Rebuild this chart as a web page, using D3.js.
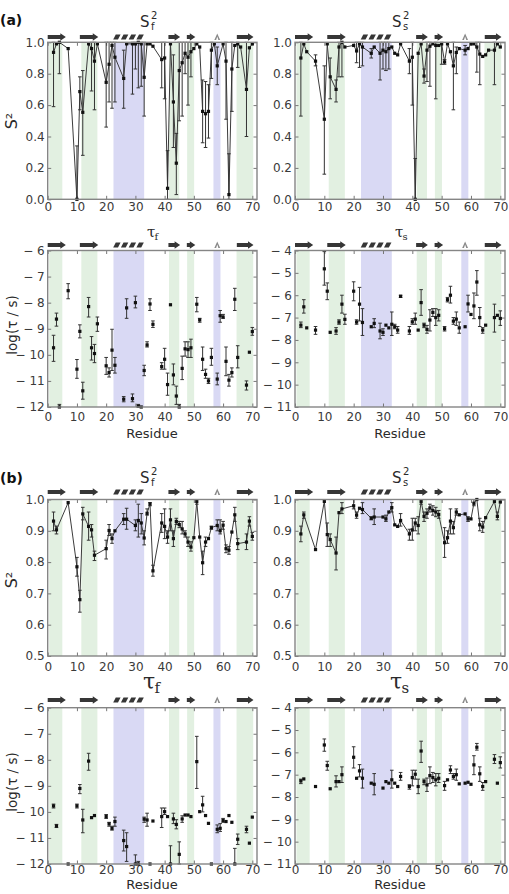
<!DOCTYPE html>
<html><head><meta charset="utf-8">
<script src="https://cdn.jsdelivr.net/npm/d3@7"></script>
<style>body{margin:0;background:#fff}svg{display:block}text{font-family:"DejaVu Sans",sans-serif}</style>
</head><body><svg id="c" width="509" height="894"></svg>
<script>
// ---------- shared annotations ----------
const xDomain = [0, 71.6];
const xTicks = [0,10,20,30,40,50,60,70];
const bandsGreen = [[0.5,5],[11.5,17],[41.5,45],[47.7,50.1],[64.6,70.3]];
const bandsBlue = [[22.5,33],[56.7,59.1]];
const strands = [[0,6.2],[11,17.3],[41.3,45.3],[47.6,50.5],[64.7,70.4]];
const helices = [[22.4,33]];
const turns = [[57,59]];
const s2TicksA = [0,0.2,0.4,0.6,0.8,1.0];
const s2TicksB = [0.5,0.6,0.7,0.8,0.9,1.0];
const tfTicks = [-12,-11,-10,-9,-8,-7,-6];
const tsTicks = [-11,-10,-9,-8,-7,-6,-5,-4];

// ---------- (a) S_f^2 ----------
const aSfRes = [2,3,4,7,10,11,12,14,15,16,17,20,21,22,23,26,27,29,30,31,32,33,34,35,36,39,40,41,42,43,44,45,46,47,48,49,50,51,52,53,54,55,56,57,58,60,61,62,63,64,65,66,68,69,70];
const aSfVal = [.936,.99,1.0,.96,0.0,.686,.554,.99,.96,.88,.99,.745,.86,.98,.905,.77,.99,.99,.99,1.0,.99,.777,.99,.99,.975,.89,.90,.07,.99,.62,.23,.82,.87,.93,.905,.94,.96,.99,.97,.56,.545,.56,.95,.99,.85,.99,.88,.03,.83,.98,.99,.97,.70,.965,.99];
const aSfErr = [[.59,1],null,[.80,1],null,[0,.34],[.57,.78],[.28,.82],null,[.69,1],[.57,1],null,[.46,1],[.62,1],[.58,1],[.62,1],[.58,.95],null,[.67,1],[.83,1],[.71,1],[.72,1],[.53,1],null,null,null,[.71,1],[.64,1],[0,.31],null,[.33,.92],[.03,.42],[.50,1],[.53,1],[.80,1],[.60,1],[.78,1],null,null,null,[.36,.76],[.33,.75],[.39,.73],[.77,1],null,[.73,.97],null,[.51,1],[0,.29],[.56,1],null,[.84,1],null,[.40,1],null,null];

// ---------- (a) S_s^2 ----------
const aSsRes = [2,3,4,7,10,11,12,14,15,16,17,20,21,22,23,26,27,29,30,31,32,33,34,35,36,39,40,41,42,43,44,45,46,47,48,49,50,51,52,53,54,55,56,58,59,60,61,62,63,64,65,66,68,69,70];
const aSsVal = [.90,.99,.94,.88,.51,.99,.78,.70,.97,1.0,.97,.98,.945,.99,.97,.93,.97,.93,.95,.94,.96,.97,.93,.92,.99,.88,.905,0.0,.93,.99,.785,.95,.975,.99,.98,.98,.99,.875,.99,.94,.85,.935,.96,.95,.96,.99,.99,.97,.925,.91,.92,.95,.95,.99,.97];
const aSsErr = [[.53,1],null,null,[.85,.92],[.16,.85],null,[.64,.90],[.62,.76],[.78,1],[.78,1],null,null,[.87,1],[.84,1],[.85,1],[.90,.96],null,[.76,1],[.83,1],[.82,1],[.83,1],null,null,null,null,[.80,.96],[.60,1],[0,.26],null,null,[.74,.83],[.75,1],[.72,1],null,[.64,1],null,[.86,1],[.86,.89],null,null,[.57,1],[.80,.97],null,[.92,.98],null,null,null,[.81,1],[.73,1],null,null,null,[.73,1],null,null];

// ---------- (a) tau_f ----------
const aTfRes = [2,3,4,7,10,11,12,14,15,16,17,20,21,22,23,26,27,29,30,31,32,33,34,35,36,39,40,41,42,43,44,45,46,47,48,49,51,52,53,54,55,56,58,59,60,61,62,63,64,65,68,69,70];
const aTfVal = [-9.73,-8.63,-12,-7.54,-10.55,-9.1,-11.38,-8.15,-9.73,-9.95,-8.81,-10.42,-10.68,-9.82,-10.4,-11.7,-8.2,-11.68,-8.0,-11.97,-12,-10.6,-9.62,-8.05,-8.83,-10.45,-10.17,-11.14,-8.08,-10.77,-11.58,-12,-10.52,-9.77,-9.8,-9.73,-8.06,-8.66,-10.17,-10.75,-11.0,-10.1,-10.93,-8.5,-8.55,-10.25,-10.97,-10.68,-7.87,-10.1,-11.16,-9.9,-9.11];
const aTfErr = [[-9.25,-10.25],[-8.4,-8.9],[-11.9,-12],[-7.27,-7.85],[-10.18,-10.9],[-8.85,-9.35],[-11.05,-11.7],[-7.8,-8.55],[-9.3,-10.2],[-9.6,-10.3],[-8.55,-9.1],[-10.1,-10.75],[-10.5,-10.85],[-9.02,-10.6],[-10.1,-10.7],[-11.6,-11.8],[-7.85,-8.6],[-11.5,-11.8],[-7.75,-8.2],[-11.9,-12],null,[-10.4,-10.8],[-9.5,-9.7],[-7.85,-8.3],[-8.7,-8.95],[-10.3,-10.55],[-9.75,-10.55],[-10.7,-11.55],null,[-10.35,-11.15],[-11.2,-11.9],[-11.9,-12],[-10.05,-10.95],[-9.5,-10.05],[-9.5,-10.1],[-9.4,-10.1],[-7.8,-8.35],[-8.6,-8.75],[-9.7,-10.6],[-10.55,-10.9],[-10.9,-11.1],[-9.75,-10.4],[-10.7,-11.15],[-8.3,-8.75],[-8.45,-8.6],[-9.7,-10.8],[-10.75,-11.2],[-10.5,-10.85],[-7.45,-8.3],[-9.65,-10.5],[-11.0,-11.35],null,[-8.95,-9.25]];

// ---------- (a) tau_s ----------
const aTsRes = [2,3,4,7,10,11,12,14,15,16,17,20,21,22,23,26,27,29,30,31,32,33,34,35,36,39,40,41,42,43,44,45,46,47,48,49,51,52,53,54,55,56,58,59,60,61,62,63,64,65,68,69,70];
const aTsVal = [-7.34,-6.52,-7.46,-7.56,-4.82,-5.82,-7.66,-7.6,-7.2,-6.4,-7.08,-5.82,-7.2,-6.4,-7.22,-7.41,-7.26,-7.6,-7.66,-7.34,-7.46,-7.3,-7.41,-7.56,-6.05,-7.6,-7.19,-7.07,-7.56,-6.33,-7.34,-7.53,-7.11,-6.77,-7.0,-6.9,-7.5,-6.2,-6.0,-7.16,-7.07,-7.46,-7.41,-6.39,-6.86,-6.48,-5.41,-7.0,-7.56,-7.34,-7.0,-6.9,-7.04];
const aTsErr = [[-7.2,-7.45],[-6.2,-6.8],null,[-7.4,-7.75],[-4.05,-5.55],[-5.45,-6.2],null,[-7.45,-7.75],[-7.1,-7.3],[-6.0,-6.8],[-6.85,-7.3],[-5.4,-6.25],[-7.1,-7.3],[-5.65,-7.15],[-6.6,-7.8],null,[-7.05,-7.45],[-7.25,-7.95],[-7.5,-7.8],null,null,[-6.75,-7.8],[-7.3,-7.5],[-7.4,-7.7],[-6.0,-6.1],[-7.4,-7.75],[-7.05,-7.3],[-6.8,-7.3],null,[-5.75,-6.9],[-7.25,-7.45],[-7.35,-7.7],[-6.65,-7.6],[-6.6,-6.95],[-6.6,-7.35],[-6.65,-7.15],[-7.4,-7.6],[-6.1,-6.3],[-5.6,-6.35],[-7.0,-7.3],[-6.75,-7.35],[-7.2,-7.7],null,[-6.0,-6.75],null,[-5.9,-7.05],[-4.9,-6.0],[-6.55,-7.4],[-7.45,-7.7],null,[-6.4,-7.65],null,[-6.7,-7.35]];

// ---------- (b) S_f^2 ----------
const bSfRes = [2,3,7,10,11,12,14,15,16,20,21,22,23,26,27,30,31,32,33,34,35,36,39,40,41,42,43,44,45,46,47,48,49,50,51,52,53,54,55,56,58,59,60,61,62,63,64,65,68,69,70];
const bSfVal = [.931,.903,.99,.785,.68,.954,.914,.903,.822,.843,.901,.875,.9,.937,.937,.917,.933,.925,.877,.956,.986,.772,.925,.914,.88,.935,.875,.93,.92,.906,.89,.864,.848,.878,.994,.88,.798,.864,.875,.91,.917,.90,.918,.843,.838,.896,.951,.859,.864,.931,.882];
const bSfErr = [[.90,.96],[.89,.915],null,[.755,.815],[.64,.71],[.935,.975],[.87,.96],[.88,.92],[.805,.835],[.81,.87],[.885,.92],[.86,.89],null,[.92,.955],[.905,.972],[.90,.935],[.88,.985],[.89,.955],[.855,.90],[.95,.97],[.98,.99],[.755,.79],[.895,.955],[.875,.97],[.86,.90],[.90,.97],[.85,.90],[.92,.94],[.91,.93],[.89,.93],[.88,.90],[.85,.88],[.835,.865],null,[.985,1.0],null,[.76,.835],[.85,.88],null,[.905,.915],[.90,.935],[.89,.935],[.905,.93],[.83,.855],[.825,.85],null,[.93,.975],[.84,.875],[.84,.89],[.915,.945],[.87,.895]];

// ---------- (b) S_s^2 ----------
const bSsRes = [2,3,7,10,11,12,14,15,16,20,21,22,23,26,27,30,31,32,33,34,35,36,39,40,41,42,43,44,45,46,47,48,49,51,52,53,54,55,56,58,59,60,61,62,63,64,65,68,69,70];
const bSsVal = [.89,.951,.84,.994,.888,.872,.829,.958,.97,.98,.95,.972,.968,.94,.944,.944,.938,.96,.974,.919,.914,.933,.89,.903,.925,.917,.994,.946,.956,.973,.965,.96,.952,.862,.878,.931,.91,.96,.951,.954,.938,.938,.988,1.0,.919,.912,.942,.994,.946,.992];
const bSsErr = [[.865,.915],[.94,.96],null,null,[.85,.925],[.85,.89],[.775,.88],null,[.955,.99],[.97,1.0],[.94,.96],null,[.955,.99],[.935,.945],[.92,.97],null,[.93,.95],null,[.96,.99],null,null,[.915,.955],[.87,.905],[.87,.94],[.90,.94],[.89,.945],[.985,1.0],[.93,.96],[.94,.97],[.96,.985],[.95,.98],[.945,.975],[.94,.965],[.815,.91],[.86,.90],[.89,.97],[.89,.93],[.95,.97],null,null,[.93,.945],null,[.98,1.0],null,[.90,.94],[.895,.93],null,null,[.935,.96],null];

// ---------- (b) tau_f ----------
const bTfRes = [2,3,7,10,11,12,14,15,16,20,21,22,23,26,27,30,31,33,34,35,36,39,40,41,42,43,44,45,46,47,48,49,51,52,53,54,55,56,58,59,60,61,62,63,64,65,68,69,70];
const bTfVal = [-9.77,-10.54,-12,-9.77,-9.1,-10.31,-8.05,-10.22,-10.14,-10.18,-10.46,-10.63,-10.37,-11.1,-11.33,-12,-12,-10.28,-10.31,-12,-10.35,-10.18,-9.99,-10.18,-12,-10.27,-10.48,-11.63,-10.27,-10.12,-10.12,-10.18,-8.07,-9.99,-9.73,-10.14,-10.44,-12,-10.67,-10.63,-10.33,-10.37,-10.14,-10.4,-12,-11.05,-10.67,-11.2,-10.2];
const bTfErr = [[-9.7,-9.85],[-10.48,-10.6],null,[-9.7,-9.85],[-8.95,-9.3],[-9.9,-10.8],[-7.75,-8.4],null,null,[-10.1,-10.25],[-10.4,-10.55],[-10.55,-10.7],[-10.2,-10.55],[-10.7,-11.5],[-10.8,-11.9],[-11.65,-12],[-11.9,-12],[-10.2,-10.4],[-10.05,-10.55],null,null,[-9.85,-10.6],[-9.85,-10.1],null,[-11.3,-12],[-10.05,-10.45],[-10.3,-10.65],[-11.15,-12],[-10.15,-10.4],null,null,null,[-7.1,-9.1],null,[-9.4,-10.0],null,null,null,[-10.5,-10.8],[-10.45,-10.75],[-10.25,-10.4],null,null,null,[-11.4,-12],[-10.85,-11.25],[-10.55,-10.8],null,null];

// ---------- (b) tau_s ----------
const bTsRes = [2,3,7,10,11,12,14,15,16,20,21,22,23,26,27,30,31,32,33,34,35,36,39,40,41,42,43,44,45,46,47,48,49,51,52,53,54,55,56,58,59,60,61,62,63,64,65,68,69,70];
const bTsVal = [-7.28,-7.19,-7.53,-5.67,-6.59,-7.63,-7.31,-7.31,-7.0,-6.22,-7.16,-6.83,-7.16,-7.38,-7.43,-7.6,-7.31,-7.38,-7.23,-7.38,-7.53,-7.08,-7.53,-7.13,-6.98,-7.53,-5.94,-7.31,-7.46,-7.04,-7.13,-7.23,-7.16,-7.49,-7.23,-6.79,-7.08,-7.0,-7.41,-7.38,-7.34,-7.43,-6.56,-5.77,-6.96,-7.53,-7.31,-6.31,-7.38,-6.46];
const bTsErr = [[-7.2,-7.4],null,null,[-5.4,-5.95],[-6.4,-6.8],null,[-7.05,-7.55],null,[-6.65,-7.35],[-5.75,-6.7],null,[-6.55,-7.1],[-6.75,-7.6],null,[-6.95,-7.9],null,null,null,[-6.8,-7.6],null,null,[-6.9,-7.25],[-7.45,-7.65],[-6.8,-7.5],[-6.8,-7.2],[-7.2,-7.85],[-5.5,-6.45],[-7.2,-7.45],[-7.15,-7.75],[-6.65,-7.4],[-6.9,-7.35],[-6.95,-7.5],[-6.95,-7.35],[-7.3,-7.7],null,[-6.6,-6.95],[-6.95,-7.2],[-6.75,-7.25],null,null,null,null,[-6.15,-7.0],[-5.6,-5.9],[-6.65,-7.3],[-7.35,-7.7],null,[-6.1,-6.5],null,[-6.2,-6.7]];

// ---------- layout ----------
const svg = d3.select("#c");
const cols = {L:{x0:47.7,x1:257,cx:152,sx:140,tx:147,tbx:143}, R:{x0:295,x1:505,cx:400,sx:392,tx:395,tbx:390}};
const rows = [
  {top:42.3, bot:199.3, title:27, icon:37, pad:3.6},
  {top:250.5, bot:407, title:237, icon:245, pad:5.5},
  {top:499.5, bot:656, title:483, icon:492, pad:6},
  {top:707.7, bot:864, title:689, icon:700, pad:1}
];
const panels = [
  {c:"L",r:0,res:aSfRes,val:aSfVal,err:aSfErr,dom:[0,1],ticks:s2TicksA,kind:"S",sub:"f",line:true},
  {c:"R",r:0,res:aSsRes,val:aSsVal,err:aSsErr,dom:[0,1],ticks:s2TicksA,kind:"S",sub:"s",line:true},
  {c:"L",r:1,res:aTfRes,val:aTfVal,err:aTfErr,dom:[-12,-6],ticks:tfTicks,kind:"t",sub:"f",line:false},
  {c:"R",r:1,res:aTsRes,val:aTsVal,err:aTsErr,dom:[-11,-4],ticks:tsTicks,kind:"t",sub:"s",line:false},
  {c:"L",r:2,res:bSfRes,val:bSfVal,err:bSfErr,dom:[0.5,1],ticks:s2TicksB,kind:"S",sub:"f",line:true},
  {c:"R",r:2,res:bSsRes,val:bSsVal,err:bSsErr,dom:[0.5,1],ticks:s2TicksB,kind:"S",sub:"s",line:true},
  {c:"L",r:3,res:bTfRes,val:bTfVal,err:bTfErr,dom:[-12,-6],ticks:tfTicks,kind:"T",sub:"f",line:false},
  {c:"R",r:3,res:bTsRes,val:bTsVal,err:bTsErr,dom:[-11,-4],ticks:tsTicks,kind:"T",sub:"s",line:false}
];

const tickFmt = d => d < 0 ? "\u2212 " + Math.abs(d) : d3.format(".1f")(d);
const ink = "#333";

function styleAxis(sel){
  sel.select(".domain").remove();
  sel.selectAll(".tick line").attr("stroke","#777").attr("stroke-width",1);
  sel.selectAll(".tick text").attr("fill","#3a3a3a").style("font-size","12px").style("font-family","DejaVu Sans");
}

panels.forEach(p => {
  const C = cols[p.c], R = rows[p.r];
  const x = d3.scaleLinear().domain(xDomain).range([C.x0, C.x1]);
  const y = d3.scaleLinear().domain(p.dom).range([R.bot, R.top]);
  const g = svg.append("g");
  bandsGreen.forEach(b => g.append("rect").attr("x",x(b[0])).attr("width",x(b[1])-x(b[0])).attr("y",R.top).attr("height",R.bot-R.top).attr("fill","#e2f0e1"));
  bandsBlue.forEach(b => g.append("rect").attr("x",x(b[0])).attr("width",x(b[1])-x(b[0])).attr("y",R.top).attr("height",R.bot-R.top).attr("fill","#d9d9f4"));

  // axes (inward ticks on all sides)
  g.append("g").attr("transform",`translate(0,${R.bot})`)
    .call(d3.axisBottom(x).tickValues(xTicks).tickSize(-3.5).tickPadding(R.pad).tickFormat(d3.format("d"))).call(styleAxis);
  g.append("g").attr("transform",`translate(0,${R.top})`)
    .call(d3.axisTop(x).tickValues(xTicks).tickSize(-3.5).tickFormat("")).call(styleAxis);
  g.append("g").attr("transform",`translate(${C.x0},0)`)
    .call(d3.axisLeft(y).tickValues(p.ticks).tickSize(-3.5).tickPadding(3).tickFormat(tickFmt)).call(styleAxis);
  g.append("g").attr("transform",`translate(${C.x1},0)`)
    .call(d3.axisRight(y).tickValues(p.ticks).tickSize(-3.5).tickFormat("")).call(styleAxis);

  const data = p.res.map((r,i) => ({r, v:p.val[i], e:p.err[i]}));
  if (p.line) {
    g.append("path").datum(data).attr("fill","none").attr("stroke","#3c3c3c").attr("stroke-width",1)
      .attr("d", d3.line().x(d=>x(d.r)).y(d=>y(d.v)));
  }
  data.filter(d=>d.e).forEach(d => {
    const xx = x(d.r), ya = y(d.e[0]), yb = y(d.e[1]);
    g.append("line").attr("x1",xx).attr("x2",xx).attr("y1",ya).attr("y2",yb).attr("stroke",ink).attr("stroke-width",1);
    [ya,yb].forEach(yy => g.append("line").attr("x1",xx-1.8).attr("x2",xx+1.8).attr("y1",yy).attr("y2",yy).attr("stroke",ink).attr("stroke-width",1));
  });
  g.selectAll("rect.pt").data(data).enter().append("rect").attr("class","pt")
    .attr("x",d=>x(d.r)-1.6).attr("y",d=>y(d.v)-1.6).attr("width",3.2).attr("height",3.2).attr("fill","#111");

  // frame
  g.append("rect").attr("x",C.x0).attr("y",R.top).attr("width",C.x1-C.x0).attr("height",R.bot-R.top)
    .attr("fill","none").attr("stroke","#858585").attr("stroke-width",1.4);

  // secondary structure icons
  const iy = R.icon;
  strands.forEach(s => {
    const a = x(s[0]), b = x(s[1]), hl = 5.5;
    g.append("path").attr("fill","#363636")
      .attr("d",`M${a},${iy-2}L${b-hl},${iy-2}L${b-hl},${iy-3.8}L${b},${iy}L${b-hl},${iy+3.8}L${b-hl},${iy+2}L${a},${iy+2}Z`);
  });
  helices.forEach(h => {
    const a = x(h[0]), b = x(h[1]), seg = (b-a)/4;
    for (let k=0;k<4;k++){
      const s0 = a + k*seg, w = seg*0.62, sl = 2.6;
      g.append("path").attr("fill","#363636")
        .attr("d",`M${s0},${iy+2.6}L${s0+w},${iy+2.6}L${s0+w+sl},${iy-2.6}L${s0+sl},${iy-2.6}Z`);
    }
  });
  turns.forEach(t => {
    const a = x(t[0]), b = x(t[1]), m = (a+b)/2;
    g.append("path").attr("fill","#8a8a8a")
      .attr("d",`M${a},${iy+3}L${m},${iy-3.5}L${b},${iy+3}L${b-1.8},${iy+3}L${m},${iy-0.5}L${a+1.8},${iy+3}Z`);
  });

  // titles
  const tb = R.title;
  if (p.kind === "S") {
    g.append("text").attr("x",C.sx).attr("y",tb).attr("fill","#2a2a2a").style("font-size","15px").text("S");
    g.append("text").attr("x",C.sx+11).attr("y",tb+3).attr("fill","#2a2a2a").style("font-size","10px").text(p.sub);
    g.append("text").attr("x",C.sx+11).attr("y",tb-8).attr("fill","#2a2a2a").style("font-size","10px").text("2");
  } else if (p.kind === "t") {
    g.append("text").attr("x",C.tx).attr("y",tb).attr("fill","#2a2a2a").style("font-family","DejaVu Serif").style("font-size","15px").text("τ");
    g.append("text").attr("x",C.tx+7.5).attr("y",tb+3).attr("fill","#2a2a2a").style("font-family","DejaVu Serif").style("font-size","10px").text(p.sub);
  } else {
    g.append("text").attr("x",C.tbx).attr("y",tb).attr("fill","#2a2a2a").style("font-family","DejaVu Serif").style("font-size","22px").text("τ");
    g.append("text").attr("x",C.tbx+11.5).attr("y",tb+4).attr("fill","#2a2a2a").style("font-family","DejaVu Serif").style("font-size","15px").text(p.sub);
  }
});

// axis titles
const yLabels = [
  {t:"S²", y:121, s:16}, {t:"log(τ / s)", y:325, s:13.5}, {t:"S²", y:580, s:16}, {t:"log(τ / s)", y:782, s:13.5}
];
yLabels.forEach(l => svg.append("text").attr("transform",`translate(16.5,${l.y}) rotate(-90)`)
  .attr("text-anchor","middle").attr("fill","#2a2a2a").style("font-size",l.s+"px").text(l.t));
[[152,438],[400,438],[152,889],[400,889]].forEach(([xx,yy]) => svg.append("text").attr("x",xx).attr("y",yy)
  .attr("text-anchor","middle").attr("fill","#2a2a2a").style("font-size","13px").text("Residue"));
svg.append("text").attr("x",0).attr("y",25).style("font-weight","bold").style("font-size","14px").attr("fill","#111").text("(a)");
svg.append("text").attr("x",0).attr("y",483).style("font-weight","bold").style("font-size","14px").attr("fill","#111").text("(b)");
</script></body></html>
